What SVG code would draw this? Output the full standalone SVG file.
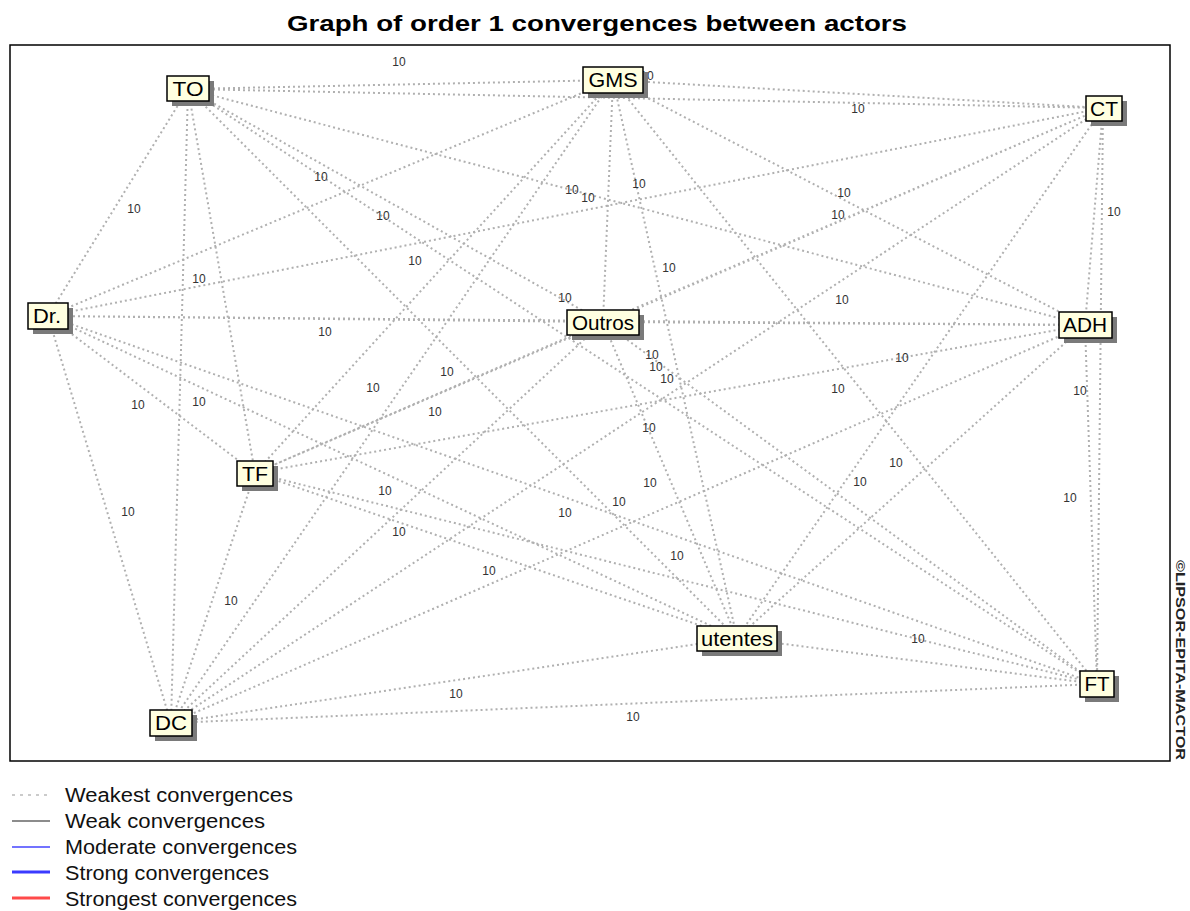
<svg xmlns="http://www.w3.org/2000/svg" width="1190" height="911" viewBox="0 0 1190 911">
<style>
.e{stroke:#b0b0b0;stroke-width:2;stroke-dasharray:2 3;fill:none}
.l{font-family:"Liberation Sans",Arial,sans-serif;font-size:12px;fill:#333;text-anchor:middle}
.bx{fill:#ffffe0;stroke:#000;stroke-width:1.5}
.sh{fill:#7a7a7a}
.nt{font-family:"Liberation Sans",Arial,sans-serif;font-size:20px;fill:#000;text-anchor:middle}
.lg{font-family:"Liberation Sans",Arial,sans-serif;font-size:20px;fill:#111}
</style>
<rect width="1190" height="911" fill="#fff"/>
<text x="597" y="31" font-family="Liberation Sans,Arial,sans-serif" font-size="22" font-weight="bold" text-anchor="middle" fill="#000" textLength="620" lengthAdjust="spacingAndGlyphs">Graph of order 1 convergences between actors</text>
<rect x="10" y="45" width="1160" height="716" fill="none" stroke="#000" stroke-width="1.5"/>
<text transform="translate(1176,560) rotate(90)" font-family="Liberation Sans,Arial,sans-serif" font-size="12" font-weight="bold" fill="#222" textLength="200" lengthAdjust="spacingAndGlyphs">©LIPSOR-EPITA-MACTOR</text>
<g id="connectors">
<path class="e" d="M188 89L613 80M188 89L1103 108M188 89L48 316M188 89L603 322M188 89L1085 325M188 89L255 473M188 89L737 638M188 89L1097 684M188 89L171 723"/>
<path class="e" d="M613 80L1103 108M613 80L48 316M613 80L603 322M613 80L1085 325M613 80L255 473M613 80L737 638M613 80L1097 684M613 80L171 723"/>
<path class="e" d="M1103 108L48 316M1103 108L603 322M1103 108L1085 325M1103 108L255 473M1103 108L737 638M1103 108L1097 684M1103 108L171 723"/>
<path class="e" d="M48 316L603 322M48 316L1085 325M48 316L255 473M48 316L737 638M48 316L1097 684M48 316L171 723"/>
<path class="e" d="M603 322L1085 325M603 322L255 473M603 322L737 638M603 322L1097 684M603 322L171 723"/>
<path class="e" d="M1085 325L255 473M1085 325L737 638M1085 325L1097 684M1085 325L171 723"/>
<path class="e" d="M255 473L737 638M255 473L1097 684M255 473L171 723"/>
<path class="e" d="M737 638L1097 684M737 638L171 723"/>
<path class="e" d="M1097 684L171 723"/>
</g>
<g id="labels">
<text class="l" x="399" y="66">10</text><text class="l" x="647" y="80">10</text><text class="l" x="858" y="113">10</text>
<text class="l" x="321" y="181">10</text><text class="l" x="134" y="213">10</text><text class="l" x="572" y="194">10</text>
<text class="l" x="588" y="202">10</text><text class="l" x="639" y="188">10</text><text class="l" x="844" y="197">10</text>
<text class="l" x="383" y="220">10</text><text class="l" x="838" y="219">10</text><text class="l" x="1114" y="216">10</text>
<text class="l" x="415" y="265">10</text><text class="l" x="669" y="272">10</text><text class="l" x="199" y="283">10</text>
<text class="l" x="565" y="302">10</text><text class="l" x="842" y="304">10</text><text class="l" x="325" y="336">10</text>
<text class="l" x="652" y="359">10</text><text class="l" x="656" y="371">10</text><text class="l" x="667" y="383">10</text>
<text class="l" x="902" y="362">10</text><text class="l" x="373" y="392">10</text><text class="l" x="447" y="376">10</text>
<text class="l" x="838" y="393">10</text><text class="l" x="1080" y="395">10</text><text class="l" x="138" y="409">10</text>
<text class="l" x="199" y="406">10</text><text class="l" x="435" y="416">10</text><text class="l" x="649" y="432">10</text>
<text class="l" x="896" y="467">10</text><text class="l" x="385" y="495">10</text><text class="l" x="650" y="487">10</text>
<text class="l" x="860" y="486">10</text><text class="l" x="619" y="506">10</text><text class="l" x="565" y="517">10</text>
<text class="l" x="1070" y="502">10</text><text class="l" x="128" y="516">10</text><text class="l" x="399" y="536">10</text>
<text class="l" x="677" y="560">10</text><text class="l" x="489" y="575">10</text><text class="l" x="231" y="605">10</text>
<text class="l" x="918" y="643">10</text><text class="l" x="456" y="698">10</text><text class="l" x="633" y="721">10</text>
</g>
<g id="n-TO"><rect class="sh" x="172" y="81" width="42" height="25"/><rect class="bx" x="167" y="76" width="42" height="25"/><text class="nt" x="188" y="96" textLength="31" lengthAdjust="spacingAndGlyphs">TO</text></g>
<g id="n-GMS"><rect class="sh" x="588" y="72" width="60" height="26"/><rect class="bx" x="583" y="67" width="60" height="26"/><text class="nt" x="613" y="87" textLength="49" lengthAdjust="spacingAndGlyphs">GMS</text></g>
<g id="n-CT"><rect class="sh" x="1091" y="101" width="36" height="25"/><rect class="bx" x="1086" y="96" width="36" height="25"/><text class="nt" x="1104" y="116" textLength="28" lengthAdjust="spacingAndGlyphs">CT</text></g>
<g id="n-Dr"><rect class="sh" x="33" y="308" width="40" height="26"/><rect class="bx" x="28" y="303" width="40" height="26"/><text class="nt" x="47" y="323" textLength="28" lengthAdjust="spacingAndGlyphs">Dr.</text></g>
<g id="n-Outros"><rect class="sh" x="572" y="315" width="72" height="25"/><rect class="bx" x="567" y="310" width="72" height="25"/><text class="nt" x="603" y="330" textLength="62" lengthAdjust="spacingAndGlyphs">Outros</text></g>
<g id="n-ADH"><rect class="sh" x="1064" y="317" width="53" height="26"/><rect class="bx" x="1059" y="312" width="53" height="26"/><text class="nt" x="1085" y="332" textLength="44" lengthAdjust="spacingAndGlyphs">ADH</text></g>
<g id="n-TF"><rect class="sh" x="242" y="466" width="36" height="25"/><rect class="bx" x="237" y="461" width="36" height="25"/><text class="nt" x="255" y="481" textLength="26" lengthAdjust="spacingAndGlyphs">TF</text></g>
<g id="n-utentes"><rect class="sh" x="702" y="631" width="80" height="25"/><rect class="bx" x="697" y="626" width="80" height="25"/><text class="nt" x="737" y="646" textLength="72" lengthAdjust="spacingAndGlyphs">utentes</text></g>
<g id="n-FT"><rect class="sh" x="1085" y="676" width="34" height="26"/><rect class="bx" x="1080" y="671" width="34" height="26"/><text class="nt" x="1097" y="691" textLength="25" lengthAdjust="spacingAndGlyphs">FT</text></g>
<g id="n-DC"><rect class="sh" x="155" y="715" width="42" height="26"/><rect class="bx" x="150" y="710" width="42" height="26"/><text class="nt" x="171" y="730" textLength="32" lengthAdjust="spacingAndGlyphs">DC</text></g>
<g id="legend">
<line x1="12" y1="795" x2="50" y2="795" stroke="#bbb" stroke-width="1.5" stroke-dasharray="3 5"/>
<line x1="12" y1="821" x2="50" y2="821" stroke="#666" stroke-width="1.5"/>
<line x1="12" y1="847" x2="50" y2="847" stroke="#4545ff" stroke-width="1.5"/>
<line x1="12" y1="872" x2="50" y2="872" stroke="#3a3aff" stroke-width="3"/>
<line x1="12" y1="898" x2="50" y2="898" stroke="#ff4a4a" stroke-width="3"/>
<text class="lg" x="65" y="802" textLength="228" lengthAdjust="spacingAndGlyphs">Weakest convergences</text>
<text class="lg" x="65" y="828" textLength="200" lengthAdjust="spacingAndGlyphs">Weak convergences</text>
<text class="lg" x="65" y="854" textLength="232" lengthAdjust="spacingAndGlyphs">Moderate convergences</text>
<text class="lg" x="65" y="880" textLength="204" lengthAdjust="spacingAndGlyphs">Strong convergences</text>
<text class="lg" x="65" y="906" textLength="232" lengthAdjust="spacingAndGlyphs">Strongest convergences</text>
</g>
</svg>
